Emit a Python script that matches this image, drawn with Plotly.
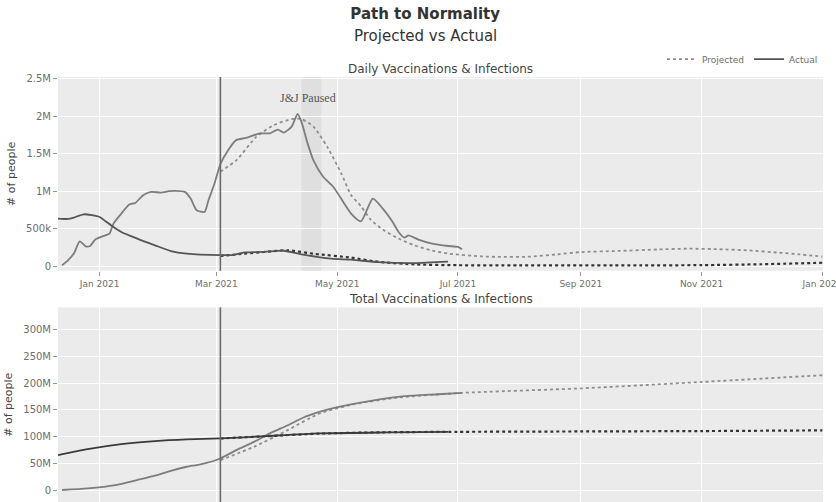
import plotly.graph_objects as go
from plotly.subplots import make_subplots

# ---- Daily figures ----
vacc_daily_dates = [
    "2020-12-13", "2020-12-16", "2020-12-19", "2020-12-22", "2020-12-25", "2020-12-27",
    "2020-12-30", "2021-01-04", "2021-01-06", "2021-01-08", "2021-01-12", "2021-01-16",
    "2021-01-19", "2021-01-23", "2021-01-27", "2021-02-01", "2021-02-05", "2021-02-08",
    "2021-02-13", "2021-02-16", "2021-02-19", "2021-02-23", "2021-02-25", "2021-02-28",
    "2021-03-03", "2021-03-07", "2021-03-11", "2021-03-16", "2021-03-23", "2021-03-28",
    "2021-04-01", "2021-04-04", "2021-04-08", "2021-04-11", "2021-04-13", "2021-04-16",
    "2021-04-19", "2021-04-24", "2021-04-29", "2021-05-08", "2021-05-13", "2021-05-19",
    "2021-05-24", "2021-05-29", "2021-06-01", "2021-06-04", "2021-06-06", "2021-06-11",
    "2021-06-18", "2021-06-26", "2021-07-01", "2021-07-03",
]
vacc_daily_actual = [
    13e3, 80e3, 170e3, 333e3, 267e3, 267e3,
    360e3, 413e3, 436e3, 569e3, 703e3, 822e3,
    844e3, 947e3, 991e3, 982e3, 1000e3, 1004e3,
    991e3, 902e3, 747e3, 724e3, 880e3, 1100e3,
    1360e3, 1550e3, 1680e3, 1710e3, 1770e3, 1770e3,
    1820e3, 1780e3, 1860e3, 2030e3, 1920e3, 1640e3,
    1410e3, 1190e3, 1060e3, 703e3, 600e3, 902e3,
    769e3, 591e3, 458e3, 382e3, 413e3, 356e3,
    302e3, 271e3, 258e3, 227e3,
]

vacc_proj_dates = [
    "2021-03-03", "2021-03-11", "2021-03-21", "2021-03-30", "2021-04-08", "2021-04-13",
    "2021-04-19", "2021-04-26", "2021-05-03", "2021-05-08", "2021-05-13", "2021-05-18",
    "2021-05-24", "2021-06-01", "2021-06-09", "2021-06-18", "2021-06-26", "2021-07-13",
    "2021-07-21", "2021-08-05", "2021-08-20", "2021-09-01", "2021-09-20", "2021-10-10",
    "2021-10-25", "2021-11-10", "2021-11-25", "2021-12-10", "2021-12-20", "2022-01-01",
]
vacc_daily_proj = [
    1260e3, 1410e3, 1720e3, 1880e3, 1960e3, 1960e3,
    1860e3, 1590e3, 1240e3, 950e3, 800e3, 620e3,
    490e3, 370e3, 280e3, 210e3, 170e3, 133e3,
    126e3, 128e3, 160e3, 190e3, 205e3, 225e3,
    235e3, 228e3, 212e3, 182e3, 160e3, 130e3,
]

inf_daily_dates = [
    "2020-12-11", "2020-12-16", "2020-12-19", "2020-12-24", "2021-01-01", "2021-01-04",
    "2021-01-08", "2021-01-12", "2021-01-20", "2021-01-29", "2021-02-06", "2021-02-14",
    "2021-03-03", "2021-03-10", "2021-03-15", "2021-03-25", "2021-04-04", "2021-04-13",
    "2021-04-28", "2021-05-08", "2021-05-22", "2021-06-09", "2021-06-26",
]
inf_daily_actual = [
    636e3, 631e3, 649e3, 693e3, 657e3, 600e3,
    524e3, 457e3, 369e3, 280e3, 204e3, 169e3,
    150e3, 152e3, 185e3, 192e3, 208e3, 160e3,
    102e3, 89e3, 55e3, 44e3, 62e3,
]

inf_proj_dates = [
    "2021-03-03", "2021-03-15", "2021-03-25", "2021-04-06", "2021-04-20", "2021-05-08",
    "2021-05-22", "2021-06-10", "2021-07-01", "2021-08-01", "2021-10-01", "2021-11-01",
    "2021-12-01", "2022-01-01",
]
inf_daily_proj = [
    138e3, 169e3, 191e3, 213e3, 165e3, 116e3,
    60e3, 25e3, 15e3, 13e3, 13e3, 16e3,
    28e3, 48e3,
]

# ---- Cumulative figures ----
vacc_total_dates = [
    "2020-12-13", "2020-12-26", "2021-01-09", "2021-01-20", "2021-01-29", "2021-02-06",
    "2021-02-14", "2021-02-21", "2021-03-03", "2021-03-11", "2021-03-20", "2021-03-28",
    "2021-04-06", "2021-04-14", "2021-04-22", "2021-04-30", "2021-05-18", "2021-06-04",
    "2021-06-21", "2021-07-03",
]
vacc_total_actual = [
    0, 3.1e6, 9.3e6, 18.7e6, 26.7e6, 36e6,
    43.5e6, 48e6, 59e6, 74.6e6, 90e6, 105.8e6,
    121e6, 135.6e6, 146e6, 154e6, 166.6e6, 175.4e6,
    179e6, 181.6e6,
]

vacc_total_proj_dates = [
    "2021-03-03", "2021-03-20", "2021-04-06", "2021-04-22", "2021-05-09", "2021-06-01",
    "2021-07-03", "2021-09-01", "2021-11-01", "2022-01-01",
]
vacc_total_proj = [
    56e6, 80.8e6, 112e6, 143e6, 160e6, 173e6,
    181.6e6, 190e6, 202e6, 214.6e6,
]

inf_total_dates = [
    "2020-12-11", "2020-12-26", "2021-01-12", "2021-01-29", "2021-02-14", "2021-03-03",
    "2021-03-26", "2021-04-22", "2021-05-26", "2021-06-26",
]
inf_total_actual = [
    65.3e6, 76.5e6, 85.8e6, 91.4e6, 94.6e6, 96.4e6,
    100.8e6, 105.8e6, 107.7e6, 108.8e6,
]

inf_total_proj_dates = [
    "2021-03-03", "2021-03-26", "2021-04-22", "2021-05-26", "2021-07-01", "2021-09-01",
    "2021-11-01", "2022-01-01",
]
inf_total_proj = [
    96.4e6, 100.6e6, 105.5e6, 108e6, 108.8e6, 109.5e6,
    110.2e6, 111.5e6,
]

projection_start = "2021-03-03"
jj_pause = ("2021-04-13", "2021-04-23")

VACC = "#7d7d7d"
VACC_PROJ = "#8e8e8e"
INF = "#3a3a3a"
INF_PROJ = "#333333"
TEXT = "#444444"
TICK = "#6e6e6e"
FONT = "DejaVu Sans"

fig = make_subplots(
    rows=2, cols=1,
    subplot_titles=("Daily Vaccinations & Infections", "Total Vaccinations & Infections"),
)


def line(x, y, color, dash, name, legend, row, width=1.8):
    fig.add_trace(
        go.Scatter(
            x=x, y=y, mode="lines", name=name, showlegend=legend,
            line=dict(color=color, width=width, dash=dash, shape="spline", smoothing=0.6),
            hoverinfo="x+y",
        ),
        row=row, col=1,
    )


# daily panel
line(vacc_proj_dates, vacc_daily_proj, VACC_PROJ, "dot", "Projected", True, 1)
line(inf_proj_dates, inf_daily_proj, INF_PROJ, "dot", "Projected", False, 1, 2.2)
line(vacc_daily_dates, vacc_daily_actual, VACC, "solid", "Actual", False, 1)
line(inf_daily_dates, inf_daily_actual, "#555555", "solid", "Actual", True, 1)

# cumulative panel
line(vacc_total_proj_dates, vacc_total_proj, VACC_PROJ, "dot", "Projected", False, 2)
line(inf_total_proj_dates, inf_total_proj, INF_PROJ, "dot", "Projected", False, 2, 2.2)
line(vacc_total_dates, vacc_total_actual, VACC, "solid", "Actual", False, 2)
line(inf_total_dates, inf_total_actual, INF, "solid", "Actual", False, 2)

# J&J pause window
fig.add_shape(
    type="rect", xref="x", yref="y domain",
    x0=jj_pause[0], x1=jj_pause[1], y0=0, y1=1,
    fillcolor="#9a9a9a", opacity=0.14, line_width=0, layer="below",
)
fig.add_annotation(
    x="2021-04-16", y=2.24e6, xref="x", yref="y", text="J&J Paused",
    showarrow=False, font=dict(family="Liberation Serif", size=12, color="#555555"),
)

# start of projection
for yr in ("y domain", "y2 domain"):
    xr = "x" if yr == "y domain" else "x2"
    fig.add_shape(
        type="line", xref=xr, yref=yr, x0=projection_start, x1=projection_start,
        y0=0, y1=1, line=dict(color="#6a6a6a", width=1.6), layer="above",
    )

x_range = ["2020-12-11", "2022-01-01 08:00"]
xaxis_common = dict(
    range=x_range, dtick="M2", tick0="2021-01-01", tickformat="%b %Y",
    showgrid=True, gridcolor="white", gridwidth=1, zeroline=False,
    ticks="outside", ticklen=4, tickcolor="#999999",
    ticklabeloverflow="allow", automargin=False,
    tickfont=dict(family=FONT, size=9, color=TICK),
)
fig.update_xaxes(**xaxis_common)
fig.update_xaxes(showticklabels=False, row=2, col=1)

yaxis_common = dict(
    showgrid=True, gridcolor="white", gridwidth=1, zeroline=False,
    ticks="outside", ticklen=4, tickcolor="#999999", tickformat="~s",
    tickfont=dict(family=FONT, size=10, color=TICK),
    title=dict(text="# of people", font=dict(family=FONT, size=11, color=TEXT), standoff=8),
)
fig.update_yaxes(**yaxis_common)
fig.update_yaxes(range=[-58e3, 2.52e6], dtick=500e3, row=1, col=1)
fig.update_yaxes(range=[-22.4e6, 341.5e6], dtick=50e6, row=2, col=1)

fig.update_layout(
    xaxis=dict(domain=[0, 1]),
    yaxis=dict(domain=[0.5442, 1.0]),
    yaxis2=dict(domain=[0.0, 0.458]),
)

for ann in fig.layout.annotations[:2]:
    ann.font = dict(family=FONT, size=12, color=TEXT)
    ann.yshift = -1
fig.layout.annotations[1].y = 0.458

# subtitle line under the main title
fig.add_annotation(
    text="Projected vs Actual", xref="paper", yref="paper",
    x=0.48, y=1.0965, xanchor="center", yanchor="middle", showarrow=False,
    font=dict(family=FONT, size=15, color="#333333"),
)

fig.update_layout(
    width=836, height=502,
    margin=dict(l=58, r=13, t=77, b=0),
    paper_bgcolor="white",
    plot_bgcolor="#ebebeb",
    font=dict(family=FONT, color=TEXT),
    title=dict(
        text="<b>Path to Normality</b>",
        x=0.48, xref="paper", xanchor="center",
        y=1 - 14 / 502, yref="container", yanchor="middle",
        font=dict(family=FONT, size=15, color="#333333"),
    ),
    legend=dict(
        orientation="h", x=1.0, xanchor="right", y=1.042, yanchor="middle",
        font=dict(family=FONT, size=9, color=TICK), bgcolor="rgba(0,0,0,0)",
        traceorder="normal", itemwidth=30,
    ),
)

fig.write_html("out.html")
